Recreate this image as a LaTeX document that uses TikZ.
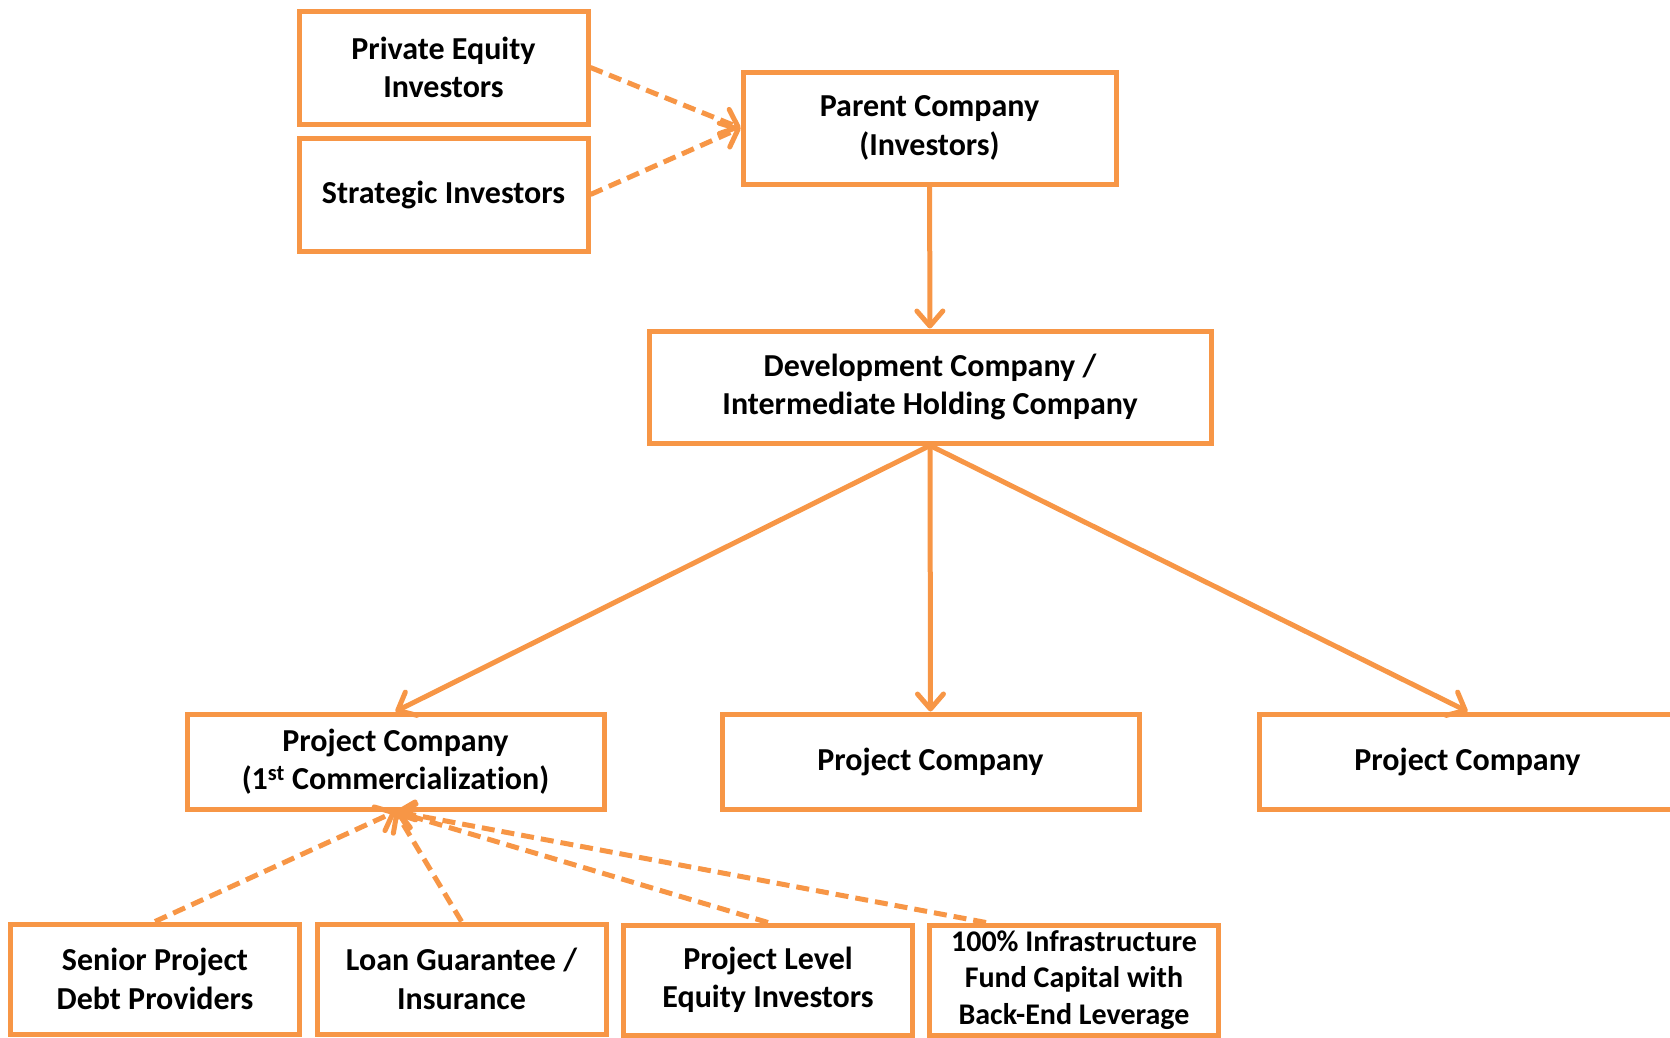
\documentclass[tikz,border=0pt]{standalone}
\usepackage{fontspec}
\setmainfont{Carlito}[Ligatures=NoCommon]
\usepackage{tikz}
\usetikzlibrary{arrows.meta}
\definecolor{orng}{HTML}{F79646}
\tikzset{
  box/.style={draw=orng, line width=5pt, fill=white, align=center, inner sep=0pt,
    font=\bfseries\fontsize{32}{38.5}\selectfont},
  topbox/.style={box, minimum width=289pt, minimum height=113pt},
  midbox/.style={box, minimum width=417pt, minimum height=95pt},
  lowbox/.style={box, minimum width=289pt, minimum height=110pt},
  link/.style={draw=orng, line width=5pt, -{Straight Barb[length=15pt,width=26pt,round]}},
  dlink/.style={link, dash pattern=on 13pt off 7pt}
}

\begin{document}
\begin{tikzpicture}[x=1pt,y=-1pt]
\useasboundingbox (0,0) rectangle (1670,1037);
% investors
\node[topbox] (PE) at (443.5,67.5) {Private Equity\\Investors};
\node[topbox] (SI) at (443.5,194.5) {Strategic Investors};
\node[box, minimum width=373pt, minimum height=112pt] (Parent) at (929.5,128) {Parent Company\\(Investors)};
\node[box, minimum width=562pt, minimum height=112pt] (Dev) at (930,387) {Development Company /\\Intermediate Holding Company};
% project companies
\node[midbox] (PC1) at (395.5,761.5) {Project Company\\(1\textsuperscript{st} Commercialization)};
\node[midbox] (PC2) at (930.5,761.5) {Project Company};
\node[midbox] (PC3) at (1467.5,761.5) {Project Company};
% capital sources
\node[lowbox] (SPD) at (155,979) {Senior Project\\Debt Providers};
\node[lowbox] (LG) at (461.5,979) {Loan Guarantee /\\Insurance};
\node[lowbox] (PL) at (768,980) {Project Level\\Equity Investors};
\node[lowbox, font=\bfseries\fontsize{30}{36.5}\selectfont] (Inf) at (1074,980) {100\% Infrastructure\\Fund Capital with\\Back-End Leverage};
\coordinate (InfTop) at ([xshift=59pt]Inf.north west);

\draw[dlink] (PE.east) -- (Parent.west);
\draw[dlink] (SI.east) -- (Parent.west);
\draw[link] (Parent) -- (Dev);
\draw[link] (Dev.south) -- (PC1.north);
\draw[link] (Dev.south) -- (PC2.north);
\draw[link] (Dev.south) -- (PC3.north);
\draw[dlink] (SPD.north) -- (PC1.south);
\draw[dlink] (LG.north) -- (PC1.south);
\draw[dlink] (PL.north) -- (PC1.south);
\draw[dlink] (InfTop) -- (PC1.south);
\end{tikzpicture}
\end{document}
